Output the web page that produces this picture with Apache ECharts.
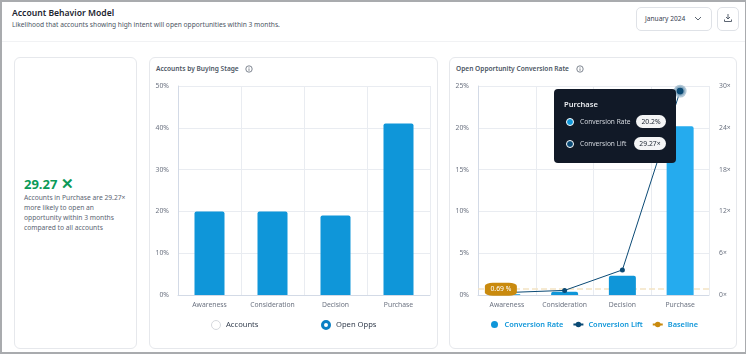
<!DOCTYPE html>
<html>
<head>
<meta charset="utf-8">
<title>Account Behavior Model</title>
<script src="https://cdn.jsdelivr.net/npm/echarts@6/dist/echarts.min.js"></script>
<style>
html,body{margin:0;padding:0;background:#fff;}
body{width:746px;height:356px;overflow:hidden;font-family:"Noto Sans","Open Sans",sans-serif;position:relative;}
.abs{position:absolute;white-space:nowrap;}
.frame{left:0;top:0;width:746px;height:354px;box-sizing:border-box;border:2px solid #a9abae;border-right-width:1px;}
.rule{left:2px;top:41px;width:743px;height:1px;background:#f1f2f4;}
.card{box-sizing:border-box;border:1px solid #e6e8ec;border-radius:6px;top:57px;height:292px;}
.title{left:12px;top:5px;font-size:8.6px;line-height:16px;font-weight:600;color:#1b2430;}
.sub{left:12px;top:18px;font-size:6.65px;line-height:14px;color:#4b5563;}
.btn{box-sizing:border-box;border:1px solid #dfe2e7;border-radius:5px;top:7px;height:24px;}
.cardtitle{top:63px;font-size:6.6px;line-height:12px;font-weight:600;color:#4b5563;}
.big{left:24px;top:173px;font-size:13px;line-height:20px;font-weight:700;color:#0b9a58;}
.desc{left:24px;top:193px;font-size:6.7px;line-height:10px;color:#5b6472;}
.radio{box-sizing:border-box;width:10px;height:10px;border-radius:50%;top:320px;}
.radiolabel{top:318px;font-size:7.6px;line-height:13px;color:#374151;}
#chart{position:absolute;left:0;top:0;width:746px;height:356px;}
</style>
</head>
<body>
<div class="abs frame"></div>
<div class="abs rule"></div>
<div class="abs title">Account Behavior Model</div>
<div class="abs sub">Likelihood that accounts showing high intent will open opportunities within 3 months.</div>

<div class="abs btn" style="left:636px;width:76px;"></div>
<div class="abs" style="left:645px;top:11px;font-size:6.6px;line-height:15px;color:#374151;">January 2024</div>
<svg class="abs" style="left:694px;top:16px;" width="8" height="6"><path d="M1 1l3 3 3-3" fill="none" stroke="#4b5563" stroke-width="0.9"/></svg>
<div class="abs btn" style="left:717px;width:22px;"></div>
<svg class="abs" style="left:723px;top:13px;" width="10" height="10"><path d="M5 1v5M3 4l2 2 2-2M1.5 6.5v2h7v-2" fill="none" stroke="#4b5563" stroke-width="0.9"/></svg>

<div class="abs card" style="left:14px;width:123px;"></div>
<div class="abs card" style="left:149px;width:289px;"></div>
<div class="abs card" style="left:449px;width:288px;"></div>

<div class="abs big">29.27 <span style="font-size:15px;">✕</span></div>
<div class="abs desc">Accounts in Purchase are 29.27×<br>more likely to open an<br>opportunity within 3 months<br>compared to all accounts</div>

<div class="abs cardtitle" style="left:156px;">Accounts by Buying Stage</div>
<svg class="abs" style="left:245px;top:65px;" width="8" height="8"><circle cx="4" cy="4" r="3.2" fill="none" stroke="#4b5563" stroke-width="0.7"/><path d="M4 3.4v2.4M4 2.2v.6" stroke="#4b5563" stroke-width="0.7"/></svg>
<div class="abs cardtitle" style="left:456px;">Open Opportunity Conversion Rate</div>
<svg class="abs" style="left:576px;top:65px;" width="8" height="8"><circle cx="4" cy="4" r="3.2" fill="none" stroke="#4b5563" stroke-width="0.7"/><path d="M4 3.4v2.4M4 2.2v.6" stroke="#4b5563" stroke-width="0.7"/></svg>

<div id="chart"></div>

<div class="abs radio" style="left:211px;border:1px solid #d5d8dd;background:#fff;"></div>
<div class="abs radiolabel" style="left:226px;">Accounts</div>
<div class="abs radio" style="left:321px;border:3.5px solid #0a7fc4;background:#fff;"></div>
<div class="abs radiolabel" style="left:336px;">Open Opps</div>

<script>
var categories = ['Awareness', 'Consideration', 'Decision', 'Purchase'];
var openOppsShare = [20, 20, 19, 41];
var conversionRate = [0.1, 0.4, 2.3, 20.2];
var conversionLift = [0.35, 0.66, 3.6, 29.27];
var baselineRate = 0.69;

var axisColor = '#6b7280';
var axisSize = 6.8;
var gridLine = {show: true, interval: 0, lineStyle: {color: '#e9ecf1', width: 1}};
var axisEdge = {show: true, lineStyle: {color: '#d3dae6', width: 1}};
var barBlue = '#0f96d9';
var liftBlue = '#0b4a75';
var amber = '#c98a0e';

function xAxisFor(i) {
    return {
        type: 'category', gridIndex: i, data: categories,
        axisTick: {show: false}, axisLine: axisEdge, splitLine: gridLine,
        axisLabel: {interval: 0, color: axisColor, fontSize: axisSize, margin: 7}
    };
}

var chart = echarts.init(document.getElementById('chart'));
var option = {
    animation: false,
    backgroundColor: 'transparent',
    textStyle: {fontFamily: 'Noto Sans'},
    grid: [
        {left: 178, top: 86, width: 252, height: 209},
        {left: 478, top: 86, width: 231, height: 209}
    ],
    xAxis: [xAxisFor(0), xAxisFor(1)],
    yAxis: [
        {type: 'value', gridIndex: 0, min: 0, max: 50, interval: 10, axisLine: axisEdge, splitLine: gridLine,
            axisLabel: {color: axisColor, fontSize: axisSize, formatter: '{value}%', margin: 9}},
        {type: 'value', gridIndex: 1, min: 0, max: 25, interval: 5, axisLine: axisEdge, splitLine: gridLine,
            axisLabel: {color: axisColor, fontSize: axisSize, formatter: '{value}%', margin: 9}},
        {type: 'value', gridIndex: 1, position: 'right', min: 0, max: 30, interval: 6, axisLine: {show: false}, splitLine: {show: false},
            axisLabel: {color: axisColor, fontSize: axisSize, formatter: '{value}×', margin: 10}}
    ],
    legend: {
        left: 491, top: 321, padding: 0, itemGap: 9, itemWidth: 10, itemHeight: 7,
        selectedMode: false,
        textStyle: {color: barBlue, fontSize: 7.4, fontWeight: 600},
        data: [
            {name: 'Conversion Rate', icon: 'circle'},
            {name: 'Conversion Lift'},
            {name: 'Baseline'}
        ]
    },
    tooltip: {
        trigger: 'axis',
        axisPointer: {type: 'none'},
        transitionDuration: 0,
        alwaysShowContent: true,
        padding: 0,
        borderWidth: 0,
        backgroundColor: 'transparent',
        extraCssText: 'box-shadow:none;',
        position: [554, 89],
        formatter: function (params) {
            var i = params[0].dataIndex;
            function row(color, label, chip, top, chipw) {
                return '<div style="position:absolute;left:12px;top:' + top + 'px;width:6px;height:6px;border-radius:50%;background:' + color + ';border:1px solid #fff;"></div>' +
                    '<div style="position:absolute;left:26px;top:' + (top - 3) + 'px;font-size:6.6px;line-height:14px;color:#d5d9e0;">' + label + '</div>' +
                    '<div style="position:absolute;right:10px;top:' + (top - 3) + 'px;width:' + chipw + 'px;height:13px;border-radius:7px;background:#f4f5f6;color:#1b2430;font-size:6.8px;line-height:13px;text-align:center;">' + chip + '</div>';
            }
            return '<div style="position:relative;width:122px;height:74px;background:#111927;border-radius:4px;font-family:Noto Sans;">' +
                '<div style="position:absolute;left:10px;top:8px;font-size:7.6px;line-height:14px;font-weight:600;color:#e8eaee;">' + categories[i] + '</div>' +
                row(barBlue, 'Conversion Rate', conversionRate[i] + '%', 29, 30) +
                row(liftBlue, 'Conversion Lift', conversionLift[i] + '×', 51, 32) +
                '</div>';
        }
    },
    series: [
        {
            name: 'Open Opps', type: 'bar', xAxisIndex: 0, yAxisIndex: 0, barWidth: 30,
            data: openOppsShare,
            itemStyle: {color: barBlue, borderRadius: [2, 2, 0, 0]},
            tooltip: {show: false}
        },
        {
            name: 'Conversion Rate', type: 'bar', xAxisIndex: 1, yAxisIndex: 1, barWidth: 27,
            data: conversionRate.map(function (v, i) {
                return i === 3 ? {value: v, itemStyle: {color: '#25abee'}} : v;
            }),
            itemStyle: {color: barBlue, borderRadius: [2, 2, 0, 0]},
            emphasis: {disabled: true}
        },
        {
            name: 'Conversion Lift', type: 'line', xAxisIndex: 1, yAxisIndex: 2,
            data: conversionLift.map(function (v, i) {
                return i === 3 ? {value: v, symbolSize: 9, itemStyle: {color: liftBlue, borderColor: 'rgba(165,190,208,0.85)', borderWidth: 3}} : v;
            }),
            symbol: 'circle', symbolSize: 5, z: 5,
            lineStyle: {color: liftBlue, width: 1},
            itemStyle: {color: liftBlue},
            emphasis: {disabled: true}
        },
        {
            name: 'Baseline', type: 'line', xAxisIndex: 1, yAxisIndex: 1, data: [],
            symbol: 'circle', symbolSize: 5, z: 6,
            lineStyle: {color: amber, width: 1},
            itemStyle: {color: amber},
            markLine: {
                silent: true, symbol: 'none', z: 1,
                lineStyle: {color: '#f3e3c3', type: 'dashed', width: 1.5},
                label: {show: false},
                data: [{yAxis: baselineRate}]
            },
            markPoint: {
                silent: true, z: 7,
                symbol: 'roundRect', symbolSize: [32, 13], symbolOffset: [-6, 0],
                itemStyle: {color: amber},
                label: {show: true, position: 'inside', formatter: baselineRate + ' %', color: '#fff', fontSize: 6.8},
                data: [{coord: [categories[0], baselineRate]}]
            }
        }
    ]
};
chart.setOption(option);
chart.dispatchAction({type: 'showTip', seriesIndex: 1, dataIndex: 3});
</script>
</body>
</html>
